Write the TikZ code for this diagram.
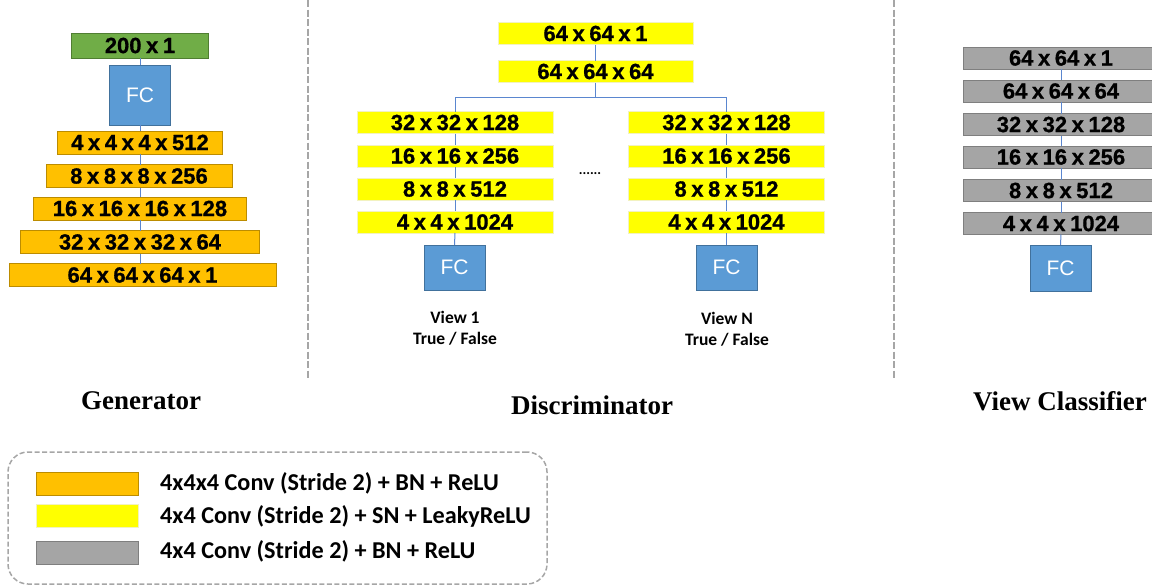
\documentclass[tikz,border=0pt]{standalone}
\usepackage{fontspec}
\setmainfont{Liberation Sans}
\newfontfamily\boxfont[FakeBold=0.8, WordSpace=0.75]{Liberation Sans}
\newfontfamily\carl{Carlito}
\newfontfamily\tnr{Liberation Serif}
\definecolor{cgreen}{HTML}{70AD47}
\definecolor{cgreenB}{HTML}{507E32}
\definecolor{cfc}{HTML}{5B9BD5}
\definecolor{cfcB}{HTML}{41719C}
\definecolor{corange}{HTML}{FFC000}
\definecolor{corangeB}{HTML}{BC8C00}
\definecolor{cyellow}{HTML}{FFFF00}
\definecolor{cyellowB}{HTML}{F2F2C0}
\definecolor{cgray}{HTML}{A5A5A5}
\definecolor{cgrayB}{HTML}{7F7F7F}
\definecolor{cline}{HTML}{5A86CF}
\definecolor{cdash}{HTML}{A6A6A6}
\tikzset{
  lay/.style={inner sep=0pt, outer sep=0pt, line width=1pt, font=\boxfont\bfseries\fontsize{22}{25}\selectfont, text=black},
  gbox/.style={lay, fill=corange, draw=corangeB, minimum height=23pt},
  ybox/.style={lay, fill=cyellow, draw=cyellowB, minimum width=196pt, minimum height=22pt},
  grbox/.style={lay, fill=cgray, draw=cgrayB, minimum width=196pt, minimum height=22pt},
  fcbox/.style={lay, fill=cfc, draw=cfcB, text=white, font=\fontsize{21}{24}\selectfont, minimum width=61pt},
  conn/.style={draw=cline, line width=1pt},
  sep/.style={draw=cdash, line width=2pt, dash pattern=on 7pt off 2.5pt},
  title/.style={font=\tnr\bfseries\fontsize{27}{30}\selectfont, inner sep=0pt},
  vlab/.style={font=\carl\bfseries\fontsize{17.5}{20}\selectfont, inner sep=0pt},
  legtext/.style={font=\carl\bfseries\fontsize{24.2}{27}\selectfont, inner sep=0pt, anchor=west},
  swatch/.style={inner sep=0pt, outer sep=0pt, line width=1pt, minimum width=102pt, minimum height=23pt}
}
\begin{document}
\begin{tikzpicture}[x=1pt, y=-1pt]
\clip (0,0) rectangle (1152,587);
\fill[white] (0,0) rectangle (1152,587);

% separators
\draw[sep] (308,0) -- (308,378);
\draw[sep] (894,0) -- (894,378);

% ---------- Generator ----------
\node[lay, fill=cgreen, draw=cgreenB, minimum width=137pt, minimum height=25pt] (g0) at (140,45.5) {200 x 1};
\node[fcbox, minimum height=60pt] (gfc) at (140,95) {FC};
\node[gbox, minimum width=165pt] (g1) at (140,142.5) {4 x 4 x 4 x 512};
\node[gbox, minimum width=186pt] (g2) at (139,176) {8 x 8 x 8 x 256};
\node[gbox, minimum width=213pt] (g3) at (140,208.5) {16 x 16 x 16 x 128};
\node[gbox, minimum width=239pt] (g4) at (140,242) {32 x 32 x 32 x 64};
\node[gbox, minimum width=267pt] (g5) at (142.5,275) {64 x 64 x 64 x 1};
\draw[conn] (g0.south) -- (gfc.north);
\draw[conn] (gfc.south) -- (g1.north);
\draw[conn] (g1.south) -- (g1.south |- g2.north);
\draw[conn] (g1.south |- g2.south) -- (g1.south |- g3.north);
\draw[conn] (g1.south |- g3.south) -- (g1.south |- g4.north);
\draw[conn] (g1.south |- g4.south) -- (g1.south |- g5.north);
\node[title] (tg) at (141,401) {Generator};

% ---------- Discriminator ----------
\node[ybox, minimum width=195pt] (d0) at (595.5,33.5) {64 x 64 x 1};
\node[ybox, minimum width=195pt] (d1) at (595.5,71.5) {64 x 64 x 64};
\coordinate (br) at (595.5,97);
\node[ybox] (l1) at (455,122.5) {32 x 32 x 128};
\node[ybox] (l2) at (455,156) {16 x 16 x 256};
\node[ybox] (l3) at (455,189) {8 x 8 x 512};
\node[ybox] (l4) at (455,222) {4 x 4 x 1024};
\node[fcbox, minimum height=45pt] (lfc) at (454.5,267.5) {FC};
\node[ybox] (r1) at (726.5,122.5) {32 x 32 x 128};
\node[ybox] (r2) at (726.5,156) {16 x 16 x 256};
\node[ybox] (r3) at (726.5,189) {8 x 8 x 512};
\node[ybox] (r4) at (726.5,222) {4 x 4 x 1024};
\node[fcbox, minimum height=45pt] (rfc) at (726.5,267.5) {FC};
\draw[conn] (d0.south) -- (d1.north);
\draw[conn] (d1.south) -- (br);
\draw[conn] (br) -| (l1.north);
\draw[conn] (br) -| (r1.north);
\draw[conn] (l1.south) -- (l2.north);
\draw[conn] (l2.south) -- (l3.north);
\draw[conn] (l3.south) -- (l4.north);
\draw[conn] (l4.south) -- (lfc.north);
\draw[conn] (r1.south) -- (r2.north);
\draw[conn] (r2.south) -- (r3.north);
\draw[conn] (r3.south) -- (r4.north);
\draw[conn] (r4.south) -- (rfc.north);
\node[vlab] (v1a) at (455,317) {View 1};
\node[vlab] (v1b) at (455,339) {True / False};
\node[vlab] (vna) at (727,318) {View N};
\node[vlab] (vnb) at (727,340) {True / False};
\node[font=\carl\bfseries\fontsize{14}{16}\selectfont, inner sep=0pt] (dots) at (590,174) {......};
\node[title] (td) at (592,405) {Discriminator};

% ---------- View classifier ----------
\node[grbox] (c0) at (1061,58) {64 x 64 x 1};
\node[grbox] (c1) at (1061,91) {64 x 64 x 64};
\node[grbox] (c2) at (1061,124.5) {32 x 32 x 128};
\node[grbox] (c3) at (1061,157) {16 x 16 x 256};
\node[grbox] (c4) at (1061,190.5) {8 x 8 x 512};
\node[grbox] (c5) at (1061,223.5) {4 x 4 x 1024};
\node[fcbox, minimum height=46pt] (cfc) at (1060.5,268) {FC};
\draw[conn] (c0.south) -- (c1.north);
\draw[conn] (c1.south) -- (c2.north);
\draw[conn] (c2.south) -- (c3.north);
\draw[conn] (c3.south) -- (c4.north);
\draw[conn] (c4.south) -- (c5.north);
\draw[conn] (c5.south) -- (cfc.north);
\node[title] (tc) at (1060,401) {View Classifier};

% ---------- Legend ----------
\node[draw=cdash, line width=1.5pt, dash pattern=on 5pt off 2.5pt, rounded corners=20pt, minimum width=539pt, minimum height=132pt, inner sep=0pt] (leg) at (277.5,518) {};
\node[swatch, fill=corange, draw=corangeB] (s1) at (87,483.5) {};
\node[swatch, fill=cyellow, draw=cyellowB] (s2) at (87,516) {};
\node[swatch, fill=cgray, draw=cgrayB] (s3) at (87,552.5) {};
\node[legtext] (t1) at (160,483) {4x4x4 Conv (Stride 2) + BN + ReLU};
\node[legtext] (t2) at (160,516) {4x4 Conv (Stride 2) + SN + LeakyReLU};
\node[legtext] (t3) at (160,551) {4x4 Conv (Stride 2) + BN + ReLU};
\end{tikzpicture}
\end{document}
